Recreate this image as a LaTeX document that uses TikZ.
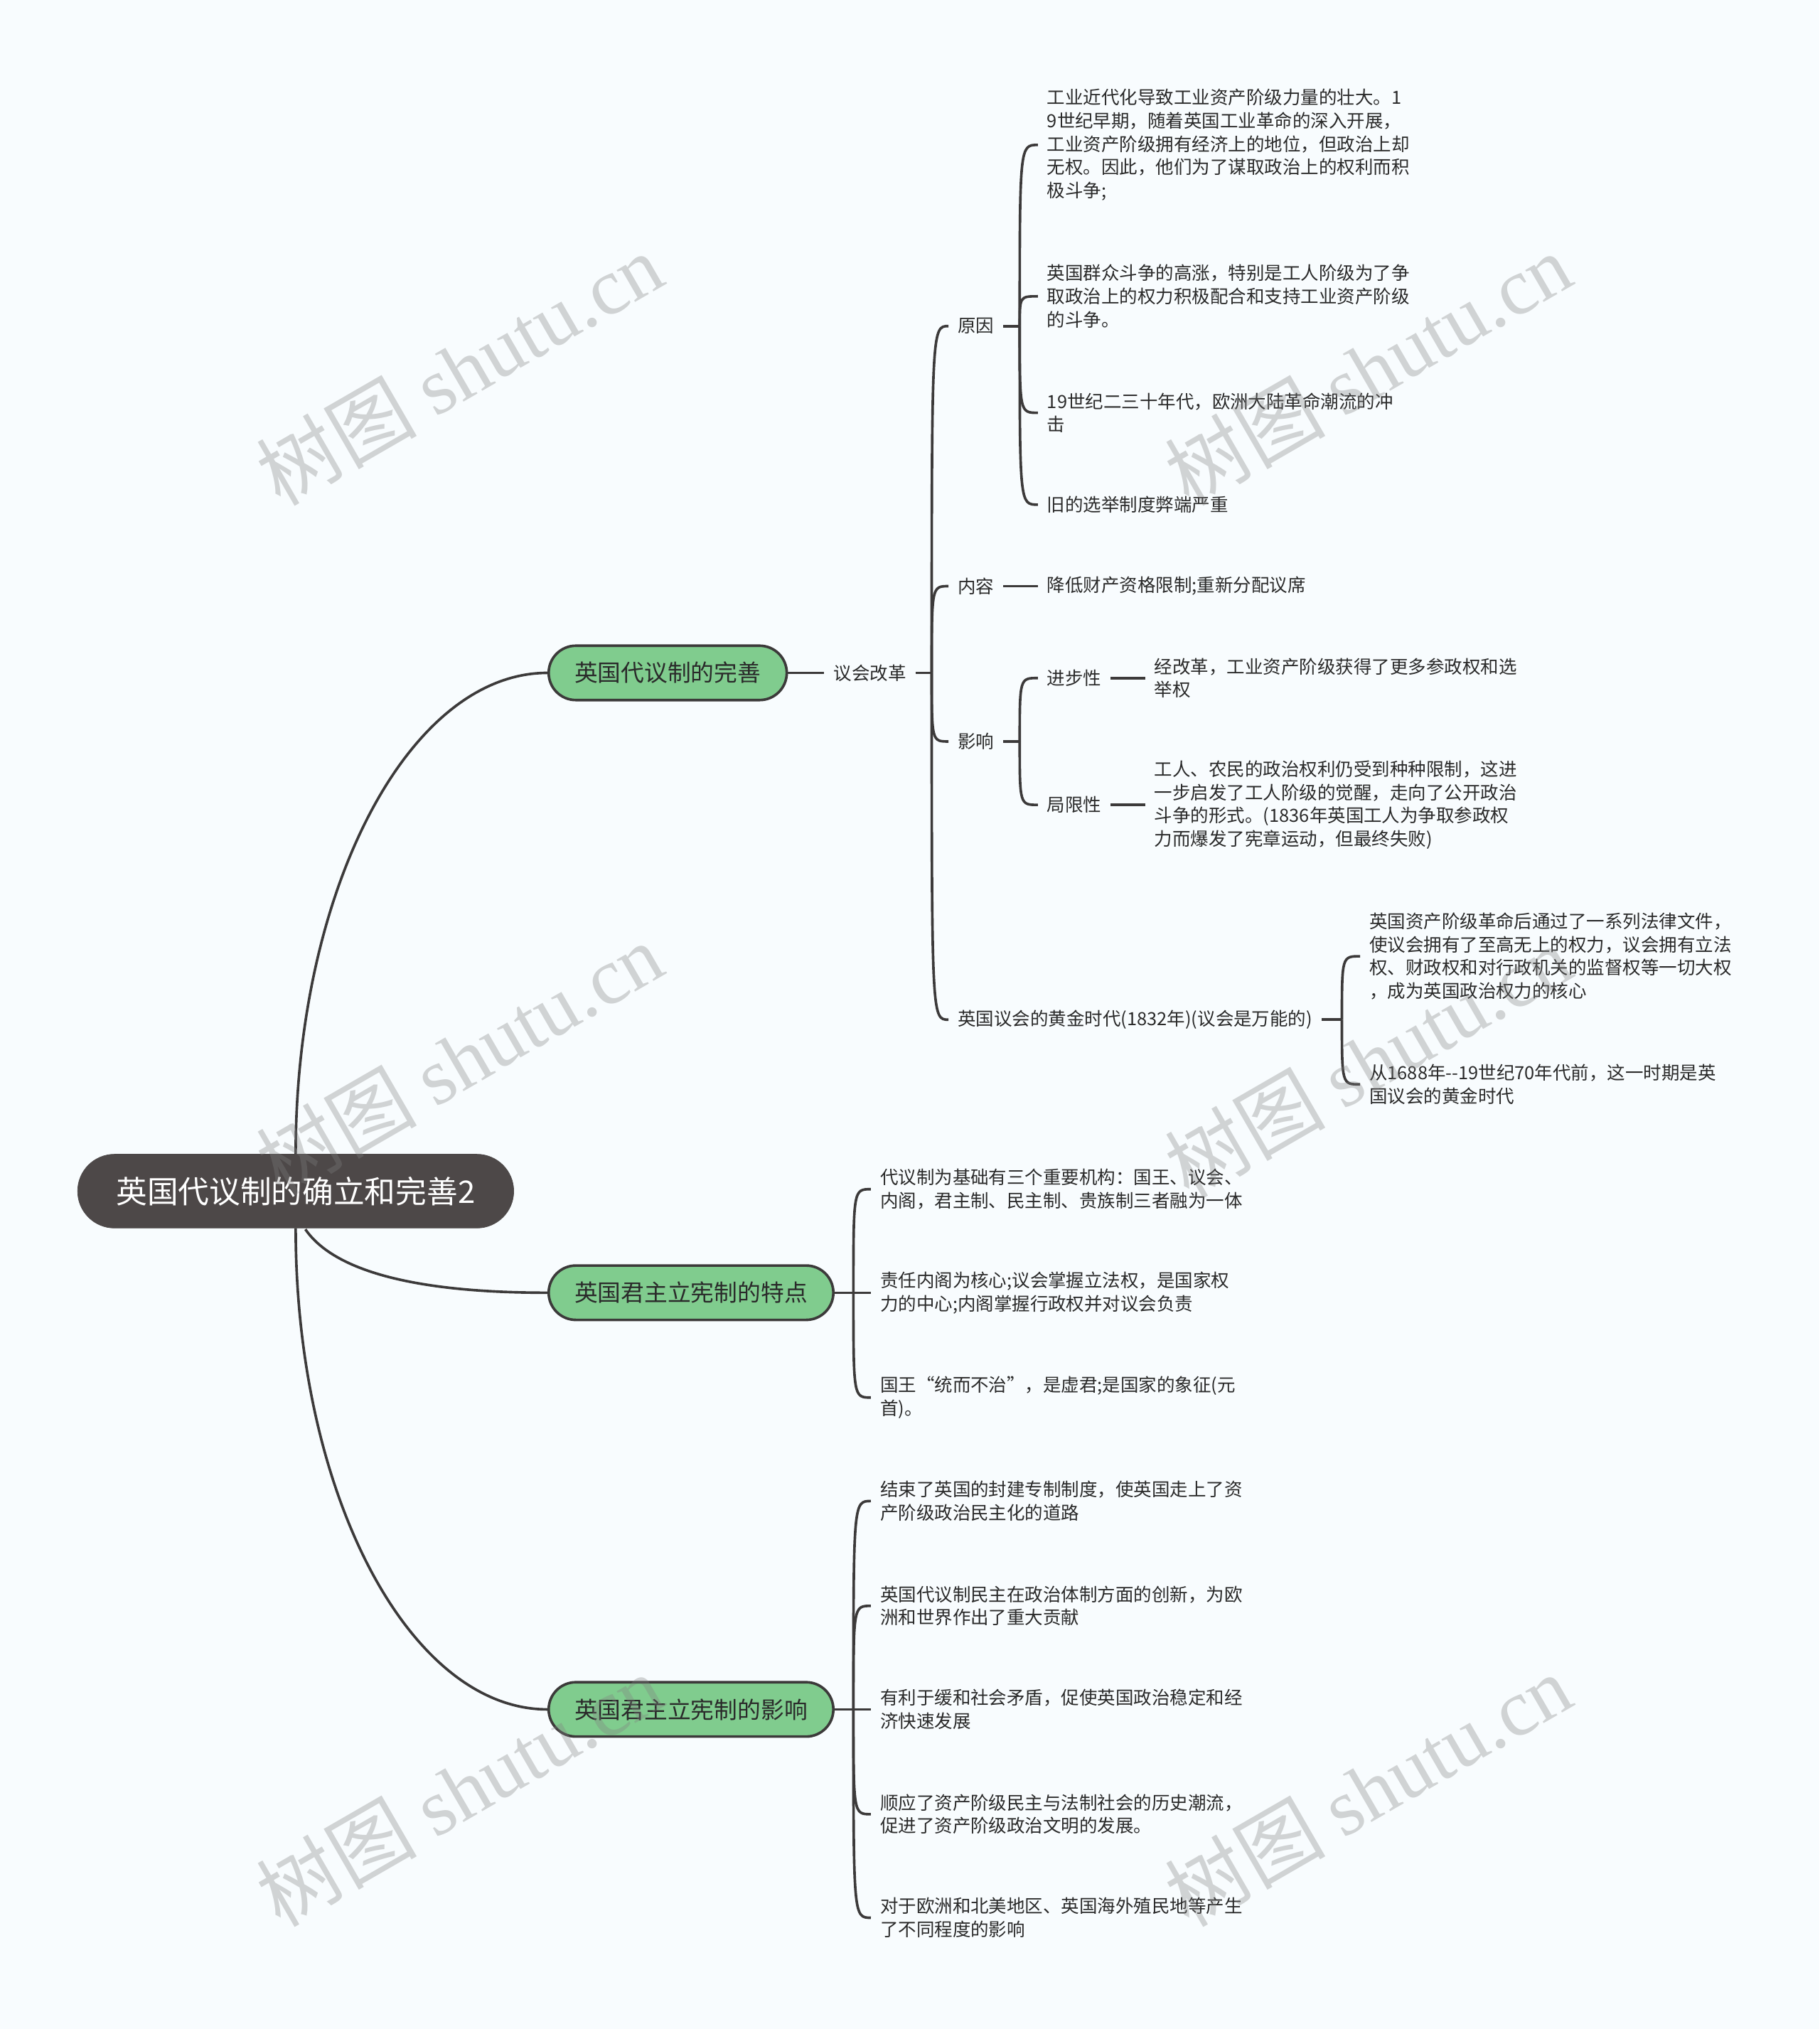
\documentclass[tikz,border=0pt]{standalone}
\usepackage{fontspec}
\setmainfont{Noto Sans CJK SC}
\newfontfamily\wmserif{Liberation Serif}
\definecolor{bgc}{HTML}{F8FCFE}
\definecolor{rootc}{HTML}{4D4848}
\definecolor{greenc}{HTML}{80CC8E}
\definecolor{linec}{HTML}{3C3A3A}
\definecolor{txtc}{HTML}{2A2A2A}
\begin{document}
\begin{tikzpicture}[x=1pt,y=-1pt,
  rootnode/.style={fill=rootc, draw=rootc, text=white, rounded corners=28.5pt, minimum width=337pt, minimum height=57pt, inner sep=0pt, font=\fontsize{24}{28}\selectfont},
  topic/.style={draw=linec, line width=2pt, fill=greenc, rounded corners=21pt, minimum height=42pt, inner xsep=20pt, inner ysep=0pt, anchor=west, text=txtc, font=\fontsize{18}{22}\selectfont},
  leaf/.style={anchor=west, align=left, inner xsep=7pt, inner ysep=0pt, text=txtc, font=\fontsize{14}{18}\selectfont},
  conn/.style={draw=linec, line width=2pt},
  wm/.style={rotate=30, text=gray, opacity=0.33, font=\fontsize{62}{62}\selectfont}]
\fill[bgc] (0,0) rectangle (1406,1568);
\useasboundingbox (0,0) rectangle (1406,1568);

% root and main topics
\node[rootnode] (root) at (228.5,920.5) {英国代议制的确立和完善2};
\node[topic] (g1) at (423,520) {英国代议制的完善};
\node[topic] (g2) at (423,999) {英国君主立宪制的特点};
\node[topic] (g3) at (423,1321) {英国君主立宪制的影响};

% branch 1
\node[leaf] (yh) at (637,520) {议会改革};
\node[leaf] (yy) at (733,252) {原因};
\node[leaf] (nr) at (733,453) {内容};
\node[leaf] (yx) at (733,573) {影响};
\node[leaf] (hj) at (733,788) {英国议会的黄金时代(1832年)(议会是万能的)};

\node[leaf] (y1) at (802,112) {工业近代化导致工业资产阶级力量的壮大。1\\9世纪早期，随着英国工业革命的深入开展，\\工业资产阶级拥有经济上的地位，但政治上却\\无权。因此，他们为了谋取政治上的权利而积\\极斗争;};
\node[leaf] (y2) at (802,229) {英国群众斗争的高涨，特别是工人阶级为了争\\取政治上的权力积极配合和支持工业资产阶级\\的斗争。};
\node[leaf] (y3) at (802,319) {19世纪二三十年代，欧洲大陆革命潮流的冲\\击};
\node[leaf] (y4) at (802,390) {旧的选举制度弊端严重};

\node[leaf] (nr1) at (802,453) {降低财产资格限制;重新分配议席};

\node[leaf] (jb) at (802,524) {进步性};
\node[leaf] (jx) at (802,622) {局限性};
\node[leaf] (jb1) at (885,524) {经改革，工业资产阶级获得了更多参政权和选\\举权};
\node[leaf] (jx1) at (885,622) {工人、农民的政治权利仍受到种种限制，这进\\一步启发了工人阶级的觉醒，走向了公开政治\\斗争的形式。(1836年英国工人为争取参政权\\力而爆发了宪章运动，但最终失败)};

\node[leaf] (hj1) at (1051,739) {英国资产阶级革命后通过了一系列法律文件，\\使议会拥有了至高无上的权力，议会拥有立法\\权、财政权和对行政机关的监督权等一切大权\\，成为英国政治权力的核心};
\node[leaf] (hj2) at (1051,838) {从1688年{-}{-}19世纪70年代前，这一时期是英\\国议会的黄金时代};

% branch 2
\node[leaf] (t1) at (673,919) {代议制为基础有三个重要机构：国王、议会、\\内阁，君主制、民主制、贵族制三者融为一体};
\node[leaf] (t2) at (673,999) {责任内阁为核心;议会掌握立法权，是国家权\\力的中心;内阁掌握行政权并对议会负责};
\node[leaf] (t3) at (673,1080) {国王“统而不治”，是虚君;是国家的象征(元\\首)。};

% branch 3
\node[leaf] (e1) at (673,1160) {结束了英国的封建专制制度，使英国走上了资\\产阶级政治民主化的道路};
\node[leaf] (e2) at (673,1241) {英国代议制民主在政治体制方面的创新，为欧\\洲和世界作出了重大贡献};
\node[leaf] (e3) at (673,1321) {有利于缓和社会矛盾，促使英国政治稳定和经\\济快速发展};
\node[leaf] (e4) at (673,1402) {顺应了资产阶级民主与法制社会的历史潮流，\\促进了资产阶级政治文明的发展。};
\node[leaf] (e5) at (673,1482) {对于欧洲和北美地区、英国海外殖民地等产生\\了不同程度的影响};

% spine coordinates
\coordinate (syh) at (720,520);
\coordinate (syy) at (788,252);
\coordinate (syx) at (788,573);
\coordinate (shj) at (1037,788);
\coordinate (sg2) at (659.5,999);
\coordinate (sg3) at (659.5,1321);
\coordinate (rb) at (236,950);

% root connectors
\draw[conn] (root.north) .. controls (228.5,687) and (316,520) .. (g1.west);
\draw[conn] (rb) .. controls (258,982) and (320,999) .. (g2.west);
\draw[conn] (root.south) .. controls (228.5,1154) and (316,1321) .. (g3.west);

% branch 1 connectors
\draw[conn] (g1.east) -- (yh.west);
\draw[conn] (yh.east) -- (syh);
\foreach \c in {yy,nr,yx,hj}
  \draw[conn] (syh) .. controls (syh |- \c.west) and (syh |- \c.west) .. (\c.west);
\draw[conn] (yy.east) -- (syy);
\foreach \c in {y1,y2,y3,y4}
  \draw[conn] (syy) .. controls (syy |- \c.west) and (syy |- \c.west) .. (\c.west);
\draw[conn] (nr.east) -- (nr1.west);
\draw[conn] (yx.east) -- (syx);
\foreach \c in {jb,jx}
  \draw[conn] (syx) .. controls (syx |- \c.west) and (syx |- \c.west) .. (\c.west);
\draw[conn] (jb.east) -- (jb1.west);
\draw[conn] (jx.east) -- (jx1.west);
\draw[conn] (hj.east) -- (shj);
\foreach \c in {hj1,hj2}
  \draw[conn] (shj) .. controls (shj |- \c.west) and (shj |- \c.west) .. (\c.west);

% branch 2 connectors
\draw[conn] (g2.east) -- (sg2);
\foreach \c in {t1,t2,t3}
  \draw[conn] (sg2) .. controls (sg2 |- \c.west) and (sg2 |- \c.west) .. (\c.west);

% branch 3 connectors
\draw[conn] (g3.east) -- (sg3);
\foreach \c in {e1,e2,e3,e4,e5}
  \draw[conn] (sg3) .. controls (sg3 |- \c.west) and (sg3 |- \c.west) .. (\c.west);

% watermarks
\node[wm] (w1) at (355,285) {树图 {\wmserif shutu.cn}};
\node[wm] (w2) at (1057,285) {树图 {\wmserif shutu.cn}};
\node[wm] (w3) at (355,818) {树图 {\wmserif shutu.cn}};
\node[wm] (w4) at (1057,820) {树图 {\wmserif shutu.cn}};
\node[wm] (w5) at (355,1383) {树图 {\wmserif shutu.cn}};
\node[wm] (w6) at (1057,1383) {树图 {\wmserif shutu.cn}};
\end{tikzpicture}
\end{document}
